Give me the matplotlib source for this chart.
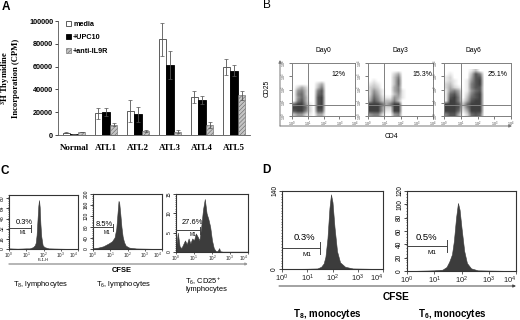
import matplotlib
matplotlib.use("Agg")
import matplotlib.pyplot as plt
import numpy as np

plt.rcParams["font.family"] = ["Liberation Sans", "DejaVu Sans"]
plt.rcParams["mathtext.default"] = "regular"
plt.rcParams["hatch.linewidth"] = 0.4

W, H = 520, 320

# panel A
groups = ["Normal", "ATL1", "ATL2", "ATL3", "ATL4", "ATL5"]
media = [2000, 19000, 21000, 84000, 33500, 59500]
media_err = [400, 5000, 9500, 14500, 5000, 7000]
upc10 = [1000, 20000, 18000, 61500, 30500, 56500]
upc10_err = [200, 3500, 7000, 12500, 3500, 5000]
anti = [2500, 9000, 3500, 3000, 9000, 35000]
anti_err = [300, 1500, 500, 1300, 2500, 4000]

# panel B, dot density per cell: top row is log10(CD25) 3.25-3.5,
# each character is a 0.25 decade bin of CD4 starting from 10^0
day0 = ["000000000000",
        "000000000000",
        "000000000000",
        "000000000000",
        "000000240000",
        "024200360000",
        "056300680000",
        "067300780000",
        "057400890000",
        "068400890000",
        "799510890000",
        "999720990000",
        "899620880000",
        "355210440000"]
day3 = ["000000000000",
        "000000240000",
        "000000360000",
        "010000370000",
        "121000370000",
        "232000460000",
        "253100461000",
        "264100351000",
        "375211541000",
        "486333630000",
        "999746990000",
        "999522990000",
        "999511990000",
        "566200560000"]
day6 = ["000000130000",
        "010000386000",
        "120000488000",
        "121001589000",
        "231001689000",
        "242101688000",
        "156401578000",
        "178502689000",
        "189603789000",
        "199614899000",
        "999837999000",
        "999826999000",
        "999714999000",
        "688402787000"]
day_names = ["Day0", "Day3", "Day6"]
day_pct = ["12%", "15.3%", "25.1%"]

# histograms, x is log10(CFSE)
c1_x = [0, 0.5, 1, 1.2, 1.4, 1.5, 1.55, 1.6, 1.65, 1.7, 1.74, 1.78, 1.82, 1.87, 1.95, 2.05, 2.3, 3, 4]
c1_y = [1, 0.5, 1, 1, 3, 6, 10, 22, 45, 68, 77, 66, 40, 20, 6, 3, 1, 0.5, 0]
c2_x = [0, 0.3, 0.6, 0.9, 1.1, 1.25, 1.35, 1.42, 1.48, 1.52, 1.58, 1.65, 1.72, 1.8, 1.9, 2.1, 2.5, 4]
c2_y = [3, 5, 10, 20, 28, 42, 75, 130, 175, 168, 130, 80, 45, 25, 12, 5, 2, 0]
c3_x = [0, 0.1, 0.2, 0.3, 0.4, 0.5, 0.6, 0.7, 0.8, 0.9, 1.0, 1.1, 1.2, 1.3, 1.4, 1.5, 1.6, 1.7, 1.8, 1.9, 2.0, 2.1, 2.2, 2.3, 2.4, 2.45, 2.6, 4]
c3_y = [1, 5, 1.5, 1, 2, 3, 2, 3.5, 2.2, 3.5, 3, 4.8, 4, 3, 6.5, 11, 13.7, 10, 8.5, 6.5, 3, 1, 0.3, 0.2, 1, 0.2, 0.1, 0.1]
d1_x = [0, 1, 1.4, 1.55, 1.65, 1.72, 1.8, 1.88, 1.94, 2.0, 2.08, 2.18, 2.3, 2.5, 2.8, 4]
d1_y = [0, 0.5, 1, 4, 10, 22, 55, 110, 134, 120, 75, 32, 12, 4, 1, 0]
d2_x = [0, 1, 1.3, 1.45, 1.55, 1.65, 1.72, 1.8, 1.87, 1.93, 2.0, 2.1, 2.2, 2.35, 2.6, 4]
d2_y = [0, 1, 2, 6, 14, 25, 45, 80, 102, 92, 65, 30, 12, 4, 1, 0]

fig = plt.figure(figsize=(W / 100, H / 100), dpi=100)


def px_axes(left, top, right, bottom):
    return fig.add_axes([left / W, 1 - bottom / H, (right - left) / W, (bottom - top) / H])


over = fig.add_axes([0, 0, 1, 1], zorder=5)
over.set_xlim(0, W)
over.set_ylim(H, 0)
over.axis("off")
over.patch.set_alpha(0)


def label(x, y, s, size=5.4, **kw):
    kw.setdefault("ha", "center")
    kw.setdefault("va", "center")
    over.text(x, y, s, fontsize=size, color="black", **kw)


def arrow(x0, y0, x1, y1, color="#777777", lw=1.0):
    over.annotate("", xy=(x1, y1), xytext=(x0, y0),
                  arrowprops=dict(arrowstyle="-|>", color=color, lw=lw, mutation_scale=4,
                                  shrinkA=0, shrinkB=0))


def log_ticks(ax, size=4.0, color="#222222"):
    ax.set_xlim(0, 4)
    ax.set_xticks(range(5))
    ax.set_xticklabels(["$10^{%d}$" % i for i in range(5)], fontsize=size)
    minor = [d + np.log10(m) for d in range(4) for m in range(2, 10)]
    ax.set_xticks(minor, minor=True)
    ax.tick_params(axis="x", which="major", length=2, width=0.5, pad=0.5, colors=color)
    ax.tick_params(axis="x", which="minor", length=1, width=0.3, colors=color)


# A
ax = px_axes(58, 21, 250, 135)
x = np.arange(len(groups))
w = 0.235
err_kw = dict(ecolor="#555555", elinewidth=0.6, capsize=1.3, capthick=0.5)
ax.bar(x - w, media, w, yerr=media_err, color="white", edgecolor="#444444", linewidth=0.6,
       error_kw=err_kw, label="media")
ax.bar(x, upc10, w, yerr=upc10_err, color="black", edgecolor="black", linewidth=0.6,
       error_kw=err_kw, label="+UPC10")
ax.bar(x + w, anti, w, yerr=anti_err, color="#c4c4c4", edgecolor="#666666", linewidth=0.4,
       hatch="////////", error_kw=err_kw, label="+anti-IL9R")
ax.set_xlim(-0.5, 5.5)
ax.set_ylim(0, 100000)
ax.set_yticks(range(0, 100001, 20000))
ax.set_yticklabels(ax.get_yticks(), fontsize=5.2, fontweight="bold")
ax.set_xticks(x)
ax.set_xticklabels(groups, fontsize=6.4, fontweight="bold", family="Liberation Serif")
ax.tick_params(axis="x", length=0, pad=6.5)
ax.tick_params(axis="y", length=2, width=0.5, pad=1.5)
ax.spines[["top", "right"]].set_visible(False)
ax.spines[["left", "bottom"]].set_linewidth(0.6)
ax.spines[["left", "bottom"]].set_color("#555555")
ax.legend(loc="upper left", bbox_to_anchor=(0.022, 1.03), frameon=False,
          handlelength=0.7, handleheight=0.7, handletextpad=0.3, labelspacing=0.85,
          borderpad=0, prop=dict(family="Liberation Sans", weight="bold", size=5.2))
label(6, 78, "$^{3}$H Thymidine", 6.2, rotation=90, fontweight="bold", family="Liberation Serif")
label(16, 78, "Incorporation (CPM)", 6.2, rotation=90, fontweight="bold", family="Liberation Serif")

# B
b_boxes = [(292, 355, 308), (368, 433, 384), (444, 511, 461)]
for rows, name, pct, (left, right, gate) in zip([day0, day3, day6], day_names, day_pct, b_boxes):
    ax = px_axes(left, 63, right, 116)
    grid = np.array([[int(c) for c in r] for r in rows], dtype=float)
    ax.imshow(grid, extent=[0, 3, 0, 3.5], cmap="gray_r", vmin=0, vmax=12, aspect="auto",
              interpolation="bilinear")
    log_ticks(ax, size=2.6, color="#444444")
    ax.set_ylim(0, 4)
    ax.set_yticks(range(5))
    ax.set_yticklabels(["$10^{%d}$" % i for i in range(5)], fontsize=2.6, rotation=90, va="center")
    ax.tick_params(axis="y", length=2, width=0.5, pad=0.5, colors="#444444")
    ax.axvline((gate - left) / (right - left) * 4, color="#808080", lw=0.7)
    ax.axhline(0.83, color="#808080", lw=0.7)
    for s in ax.spines.values():
        s.set_color("#808080")
        s.set_linewidth(0.7)
    label((left + right) / 2 - (0 if name != "Day6" else 4), 50, name, 4.9)
    label(left + (47 if name == "Day0" else 54), 75, pct, 5)
arrow(280, 126, 280, 60, lw=0.7)
arrow(280, 126, 512, 126, lw=0.7)
label(267, 88, "CD25", 4.9, rotation=90)
label(391, 137, "CD4", 4.9)

# C
c_panels = [
    ((9, 195, 78, 249), c1_x, c1_y, 85, [0, 16, 32, 48, 64, 80], 228, 31, "0.3%", 24, 223, 23, 232),
    ((93, 194, 162, 249), c2_x, c2_y, 200, [0, 40, 80, 120, 160, 200], 227, 113, "8.5%", 104, 224, 107, 233),
    ((176, 194, 248, 252), c3_x, c3_y, 15, [0, 5, 10, 15], 230, 200, "27.6%", 192, 223, 193, 235),
]
d_panels = [
    ((282, 191, 383, 269), d1_x, d1_y, 140, [0, 140], 248, 320, "0.3%", 304, 237, 307, 255),
    ((407, 191, 516, 271), d2_x, d2_y, 120, [0, 20, 40, 60, 80, 100, 120], 246, 447, "0.5%", 426, 237, 432, 252),
]
for big, panels in [(False, c_panels), (True, d_panels)]:
    for (box, hx, hy, ymax, yt, gy, gx, pct, px, py, mx, my) in panels:
        ax = px_axes(*box)
        ax.fill_between(hx, 0, hy, color="#3c3c3c", linewidth=0.4)
        log_ticks(ax, size=5.5 if big else 3.4)
        if not big:
            ax.tick_params(axis="x", which="major", length=1.5, pad=0)
        ax.get_xticklabels()[-1].set_ha("right")
        ax.set_ylim(0, ymax)
        ax.set_yticks(yt)
        ax.set_yticks(np.linspace(0, ymax, 29), minor=True)
        ax.set_yticklabels(yt, fontsize=4.8 if big else 3.6, rotation=90, va="center")
        ax.tick_params(axis="y", length=2, width=0.5, pad=0.8)
        ax.tick_params(axis="y", which="minor", length=1, width=0.4)
        for s in ax.spines.values():
            s.set_linewidth(0.8)
            s.set_color("#333333")
        over.plot([box[0], gx], [gy, gy], color="#444444", lw=0.7)
        tick = 6 if big else 3.5
        over.plot([gx, gx], [gy - tick, gy + tick], color="#444444", lw=0.7)
        label(px, py, pct, 6.8 if big else 5.4)
        label(mx, my, "M1", 4.6 if big else 3.4)

label(43, 260, "FL1-H", 2.8)
over.annotate("", xy=(248, 264), xytext=(9, 264),
              arrowprops=dict(arrowstyle="-|>", color="#999999", lw=1.0, mutation_scale=3,
                              shrinkA=0, shrinkB=0))
label(122, 270, "CFSE", 5.4, fontweight="bold")
label(13, 284, "T$_{8}$, lymphocytes", 5.4, ha="left")
label(96, 284, "T$_{6}$, lymphocytes", 5.4, ha="left")
label(185, 281, "T$_{6}$, CD25$^{+}$", 5.4, ha="left")
label(185, 289.5, "lymphocytes", 5.4, ha="left")

arrow(279, 286, 516, 286, color="#444444", lw=0.7)
label(396, 297, "CFSE", 7.3, fontweight="bold")
label(327, 314, "T$_{8}$, monocytes", 7, fontweight="bold")
label(452, 314, "T$_{6}$, monocytes", 7, fontweight="bold")

label(6, 7, "A", 8.5, fontweight="bold")
label(267, 5, "B", 8.5)
label(5, 171, "C", 8.5, fontweight="bold")
label(266, 170, "D", 8.5, fontweight="bold")

fig.savefig("out.png", dpi=100)
